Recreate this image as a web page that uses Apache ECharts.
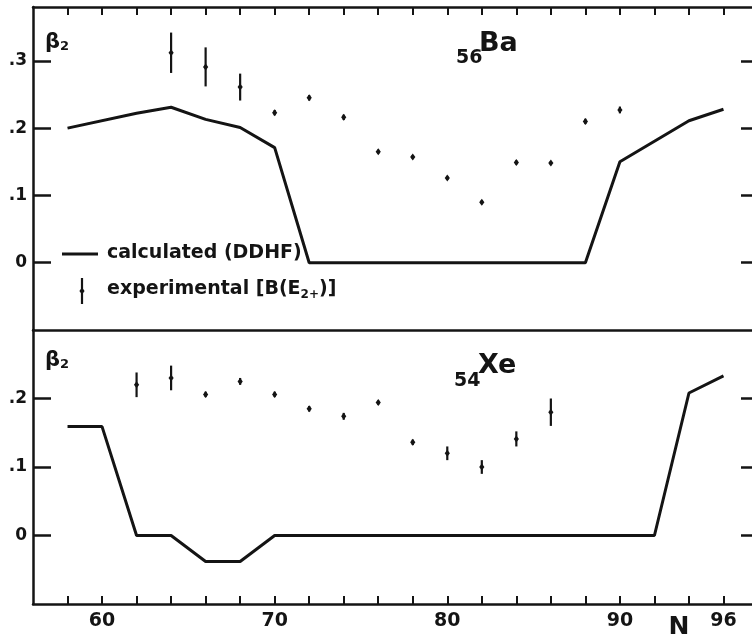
<!DOCTYPE html>
<html><head><meta charset="utf-8">
<script src="https://cdn.jsdelivr.net/npm/echarts@6/dist/echarts.min.js"></script>
<style>html,body{margin:0;padding:0;background:#fff}#c{width:752px;height:642px}</style>
</head><body><div id="c"></div>
<script>
// ---- data ----
const xTickValues = [58,60,62,64,66,68,70,72,74,76,78,80,82,84,86,88,90,92,94,96];
const xLabelValues = [60,70,80,90,94,96];
const xLabelTexts = ['60','70','80','90','N','96'];
const yTicksBa = [0,0.1,0.2,0.3];
const yTicksXe = [0,0.1,0.2];
const yLabelTexts = ['0','.1','.2','.3'];

// Ba (Z=56) calculated DDHF
const baCalcN   = [58,62,64,66,68,70,72,88,90,94,96];
const baCalcVal = [0.200,0.222,0.231,0.213,0.201,0.171,0,0,0.150,0.211,0.228];
// Ba experimental B(E2)
const baExpN   = [64,66,68,70,72,74,76,78,80,82,84,86,88,90];
const baExpVal = [0.312,0.291,0.261,0.223,0.245,0.216,0.165,0.157,0.126,0.090,0.149,0.148,0.210,0.227];
const baExpErr = [0.030,0.029,0.020,0.004,0.004,0.004,0.003,0.003,0.003,0.003,0.003,0.003,0.004,0.005];

// Xe (Z=54) calculated DDHF
const xeCalcN   = [58,60,62,64,66,68,70,92,94,96];
const xeCalcVal = [0.159,0.159,0,0,-0.038,-0.038,0,0,0.208,0.233];
// Xe experimental
const xeExpN   = [62,64,66,68,70,72,74,76,78,80,82,84,86];
const xeExpVal = [0.220,0.230,0.206,0.225,0.206,0.185,0.174,0.194,0.136,0.120,0.100,0.141,0.180];
const xeExpErr = [0.018,0.018,0.004,0.005,0.004,0.004,0.005,0.003,0.004,0.010,0.010,0.011,0.020];

// ---- chart ----
const INK = '#141414';
const FONT = "'DejaVu Sans',sans-serif";
const zip2 = (a,b) => a.map((v,i)=>[v,b[i]]);
const zip3 = (a,b,c) => a.map((v,i)=>[v,b[i],c[i]]);
const yFmt = v => { const i = [0,0.1,0.2,0.3].findIndex(t=>Math.abs(t-v)<1e-6); return i>=0 ? yLabelTexts[i] : ''; };
const xFmt = v => { const i = xLabelValues.indexOf(Math.round(v)); if (i<0) return ''; return xLabelTexts[i]==='N' ? '{n|N}' : xLabelTexts[i]; };

function renderErr(params, api){
  const x = api.value(0), v = api.value(1), e = api.value(2);
  const t = api.coord([x, v+e]), b = api.coord([x, v-e]), c = api.coord([x, v]);
  return {type:'group', children:[
    {type:'line', shape:{x1:t[0],y1:t[1],x2:b[0],y2:b[1]}, style:{stroke:INK,lineWidth:2.2}},
    {type:'polygon', shape:{points:[[c[0],c[1]-3.5],[c[0]+2.6,c[1]],[c[0],c[1]+3.5],[c[0]-2.6,c[1]]]}, style:{fill:INK}}
  ]};
}

const axLine = {show:true, onZero:false, lineStyle:{color:INK, width:2.5}};
const noLine = {show:false, onZero:false};
const baseX = {type:'value', min:56, max:98, splitLine:{show:false}};
const gridTop = {left:33, top:7, width:725, height:323, outerBoundsMode:'none', containLabel:false};
const gridBot = {left:33, top:330, width:725, height:274, outerBoundsMode:'none', containLabel:false};

const option = {
  backgroundColor:'#fff',
  animation:false,
  grid:[gridTop, gridBot],
  xAxis:[
    Object.assign({}, baseX, {gridIndex:0, position:'bottom', axisLine:axLine, axisTick:{show:false}, axisLabel:{show:false}}),
    Object.assign({}, baseX, {gridIndex:0, position:'top', axisLine:axLine,
      axisTick:{show:true, inside:true, length:8, lineStyle:{color:INK,width:2}, customValues:xTickValues},
      axisLabel:{show:false}}),
    Object.assign({}, baseX, {gridIndex:1, position:'bottom', axisLine:axLine,
      axisTick:{show:true, inside:true, length:8, lineStyle:{color:INK,width:2}, customValues:xTickValues},
      axisLabel:{show:true, customValues:xLabelValues, formatter:xFmt, margin:8, color:INK, fontSize:19, fontWeight:'bold', fontFamily:FONT,
        rich:{n:{fontSize:25, fontWeight:'bold', fontFamily:FONT, color:INK, padding:[3,20,0,0]}}}}),
    Object.assign({}, baseX, {gridIndex:1, position:'top', axisLine:noLine, axisTick:{show:false}, axisLabel:{show:false}})
  ],
  yAxis:[
    {type:'value', gridIndex:0, position:'left', min:-0.1, max:0.38, splitLine:{show:false}, axisLine:axLine,
      axisTick:{show:true, inside:true, length:18, lineStyle:{color:INK,width:2.5}, customValues:yTicksBa},
      axisLabel:{show:true, customValues:yTicksBa, formatter:yFmt, margin:6, color:INK, fontSize:17, fontWeight:'bold', fontFamily:FONT}},
    {type:'value', gridIndex:0, position:'right', min:-0.1, max:0.38, splitLine:{show:false}, axisLine:axLine,
      axisTick:{show:true, inside:true, length:17, lineStyle:{color:INK,width:2.5}, customValues:yTicksBa},
      axisLabel:{show:false}},
    {type:'value', gridIndex:1, position:'left', min:-0.1, max:0.3, splitLine:{show:false}, axisLine:axLine,
      axisTick:{show:true, inside:true, length:18, lineStyle:{color:INK,width:2.5}, customValues:yTicksXe},
      axisLabel:{show:true, customValues:yTicksXe, formatter:yFmt, margin:6, color:INK, fontSize:17, fontWeight:'bold', fontFamily:FONT}},
    {type:'value', gridIndex:1, position:'right', min:-0.1, max:0.3, splitLine:{show:false}, axisLine:axLine,
      axisTick:{show:true, inside:true, length:17, lineStyle:{color:INK,width:2.5}, customValues:yTicksXe},
      axisLabel:{show:false}}
  ],
  series:[
    {name:'calculated (DDHF) Ba', type:'line', xAxisIndex:0, yAxisIndex:0, data:zip2(baCalcN, baCalcVal),
      symbol:'none', lineStyle:{color:INK, width:3}, z:3},
    {name:'experimental Ba', type:'custom', xAxisIndex:0, yAxisIndex:0, data:zip3(baExpN, baExpVal, baExpErr),
      renderItem:renderErr, encode:{x:0, y:1}, z:4},
    {name:'calculated (DDHF) Xe', type:'line', xAxisIndex:2, yAxisIndex:2, data:zip2(xeCalcN, xeCalcVal),
      symbol:'none', lineStyle:{color:INK, width:3}, z:3},
    {name:'experimental Xe', type:'custom', xAxisIndex:2, yAxisIndex:2, data:zip3(xeExpN, xeExpVal, xeExpErr),
      renderItem:renderErr, encode:{x:0, y:1}, z:4}
  ],
  graphic:[
    // beta_2 labels
    {type:'text', left:45, top:32, style:{text:'{b|β}{s|2}', rich:{
      b:{fontSize:21, fontWeight:'bold', fontFamily:FONT, fill:INK},
      s:{fontSize:13, fontWeight:'bold', fontFamily:FONT, fill:INK, padding:[8,0,0,0]}}}},
    {type:'text', left:45, top:350, style:{text:'{b|β}{s|2}', rich:{
      b:{fontSize:21, fontWeight:'bold', fontFamily:FONT, fill:INK},
      s:{fontSize:13, fontWeight:'bold', fontFamily:FONT, fill:INK, padding:[8,0,0,0]}}}},
    // element labels
    {type:'text', left:456, top:49, style:{text:'56', fontSize:19, fontWeight:'bold', fontFamily:FONT, fill:INK}},
    {type:'text', left:479, top:30, style:{text:'Ba', fontSize:27, fontWeight:'bold', fontFamily:FONT, fill:INK}},
    {type:'text', left:454, top:372, style:{text:'54', fontSize:19, fontWeight:'bold', fontFamily:FONT, fill:INK}},
    {type:'text', left:478, top:352, style:{text:'Xe', fontSize:27, fontWeight:'bold', fontFamily:FONT, fill:INK}},
    // legend
    {type:'line', shape:{x1:62, y1:254, x2:98, y2:254}, style:{stroke:INK, lineWidth:3}},
    {type:'text', left:107, top:244, style:{text:'calculated (DDHF)', fontSize:19, fontWeight:'bold', fontFamily:FONT, fill:INK}},
    {type:'line', shape:{x1:82, y1:278, x2:82, y2:304}, style:{stroke:INK, lineWidth:2.2}},
    {type:'polygon', shape:{points:[[82,287.5],[84.6,291],[82,294.5],[79.4,291]]}, style:{fill:INK}},
    {type:'text', left:107, top:280, style:{text:'experimental [B(E{s|2+})]', fontSize:19, fontWeight:'bold', fontFamily:FONT, fill:INK,
      rich:{s:{fontSize:12, fontWeight:'bold', fontFamily:FONT, fill:INK, padding:[10,0,0,0]}}}}
  ]
};
const chart = echarts.init(document.getElementById('c'), null, {renderer:'canvas'});
chart.setOption(option);
</script></body></html>
